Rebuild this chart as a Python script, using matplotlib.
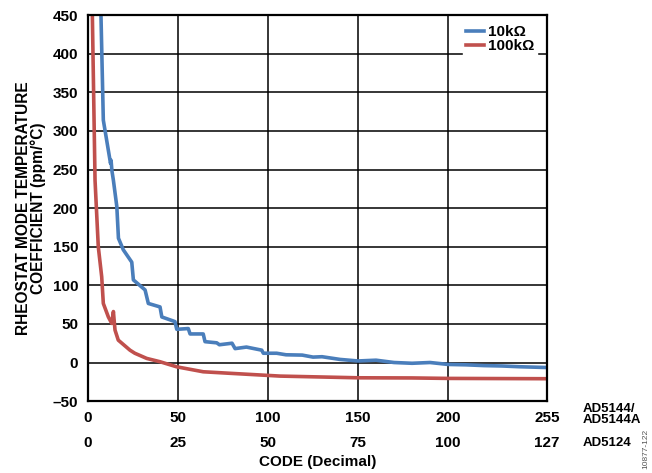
import matplotlib
matplotlib.use("Agg")
import matplotlib.pyplot as plt
import matplotlib.transforms as mtransforms

plt.rcParams['font.family'] = ['Liberation Sans', 'DejaVu Sans']
plt.rcParams['font.weight'] = 'bold'

# 10kOhm curve (code, ppm/C)
code_10k = [7.0, 8.5, 12.5, 12.8, 13.3, 14.1, 16.0, 16.9, 19.6, 24.3, 25.2, 31.7, 33.5,
            40.0, 41.0, 48.3, 49.3, 55.7, 56.7, 64.0, 65.0, 71.5, 73.0, 80.0, 81.7,
            88.0, 96.5, 97.4, 104.8, 110, 119, 125, 130, 140, 150, 160, 170, 180,
            190, 200, 210, 220, 230, 240, 255]
tc_10k = [470, 314, 258, 262, 248, 236, 202, 161, 146, 130, 107, 94, 76.5,
          72, 59, 53, 43, 44, 37, 37, 27, 25.5, 23, 25, 18,
          20, 16, 12, 12, 10, 9.6, 7, 7.5, 4, 2, 3, 0, -1,
          0, -2.5, -3, -4, -4.5, -5.5, -6.5]

# 100kOhm curve
code_100k = [2.2, 3.9, 5.7, 7.6, 8.5, 11.3, 13.2, 14.1, 14.5, 15.0, 16.8, 23.3, 26.0,
             32.6, 40.0, 49.3, 64.0, 79.0, 106.7, 150, 180, 200, 255]
tc_100k = [480, 236, 150, 111, 76.5, 59, 50.6, 66, 55, 42, 29, 16, 12,
           5.3, 1, -5.6, -12, -14, -17.6, -19.8, -20, -20.6, -21]

x_ticks = [0, 50, 100, 150, 200, 255]
x_labels_ad5144 = ['0', '50', '100', '150', '200', '255']
x_labels_ad5124 = ['0', '25', '50', '75', '100', '127']
y_ticks = [-50, 0, 50, 100, 150, 200, 250, 300, 350, 400, 450]

blue = '#4a7ebb'
red = '#c0504d'

fig = plt.figure(figsize=(6.52, 4.73), dpi=100)
ax = fig.add_axes([0.135, 0.152, 0.704, 0.816])

ax.plot(code_10k, tc_10k, color=blue, lw=2.6, label='10k\u03a9')
ax.plot(code_100k, tc_100k, color=red, lw=2.6, label='100k\u03a9')

ax.set_xlim(0, 255)
ax.set_ylim(-50, 450)
ax.set_xticks(x_ticks)
ax.set_xticklabels(x_labels_ad5144)
ax.set_yticks(y_ticks)
ax.set_yticklabels([str(v).replace('-', '\u2013') for v in y_ticks])
ax.tick_params(length=0, labelsize=11, pad=7)
ax.grid(True, color='black', lw=1.1)
for s in ax.spines.values():
    s.set_linewidth(1.6)

# second row of code labels
trans = mtransforms.blended_transform_factory(ax.transData, ax.transAxes)
for xv, lab in zip(x_ticks, x_labels_ad5124):
    ax.text(xv, -0.108, lab, transform=trans, ha='center', va='center',
            fontsize=11, fontweight='bold')

ax.text(1.078, -0.035, 'AD5144/\nAD5144A', transform=ax.transAxes, ha='left',
        va='center', fontsize=9.5, fontweight='bold', linespacing=0.95)
ax.text(1.078, -0.108, 'AD5124', transform=ax.transAxes, ha='left',
        va='center', fontsize=9.5, fontweight='bold')
fig.text(0.99, 0.05, '10877-122', rotation=90, fontsize=6, color='#555555',
         fontweight='normal', ha='center', va='center')

ax.set_xlabel('CODE (Decimal)', fontsize=11, fontweight='bold', labelpad=22)
ax.set_ylabel('RHEOSTAT MODE TEMPERATURE\nCOEFFICIENT (ppm/\u00b0C)', fontsize=11.2,
              fontweight='bold', labelpad=5, linespacing=0.95)

leg = ax.legend(loc='upper right', frameon=True, fontsize=11, handlelength=1.2,
                handletextpad=0.3, labelspacing=0.0, borderpad=0.15,
                bbox_to_anchor=(0.995, 1.0))
leg.get_frame().set_edgecolor('white')
leg.get_frame().set_facecolor('white')
leg.get_frame().set_alpha(1)
leg.get_frame().set_boxstyle('square', pad=0)

fig.savefig('out.png', dpi=100)
